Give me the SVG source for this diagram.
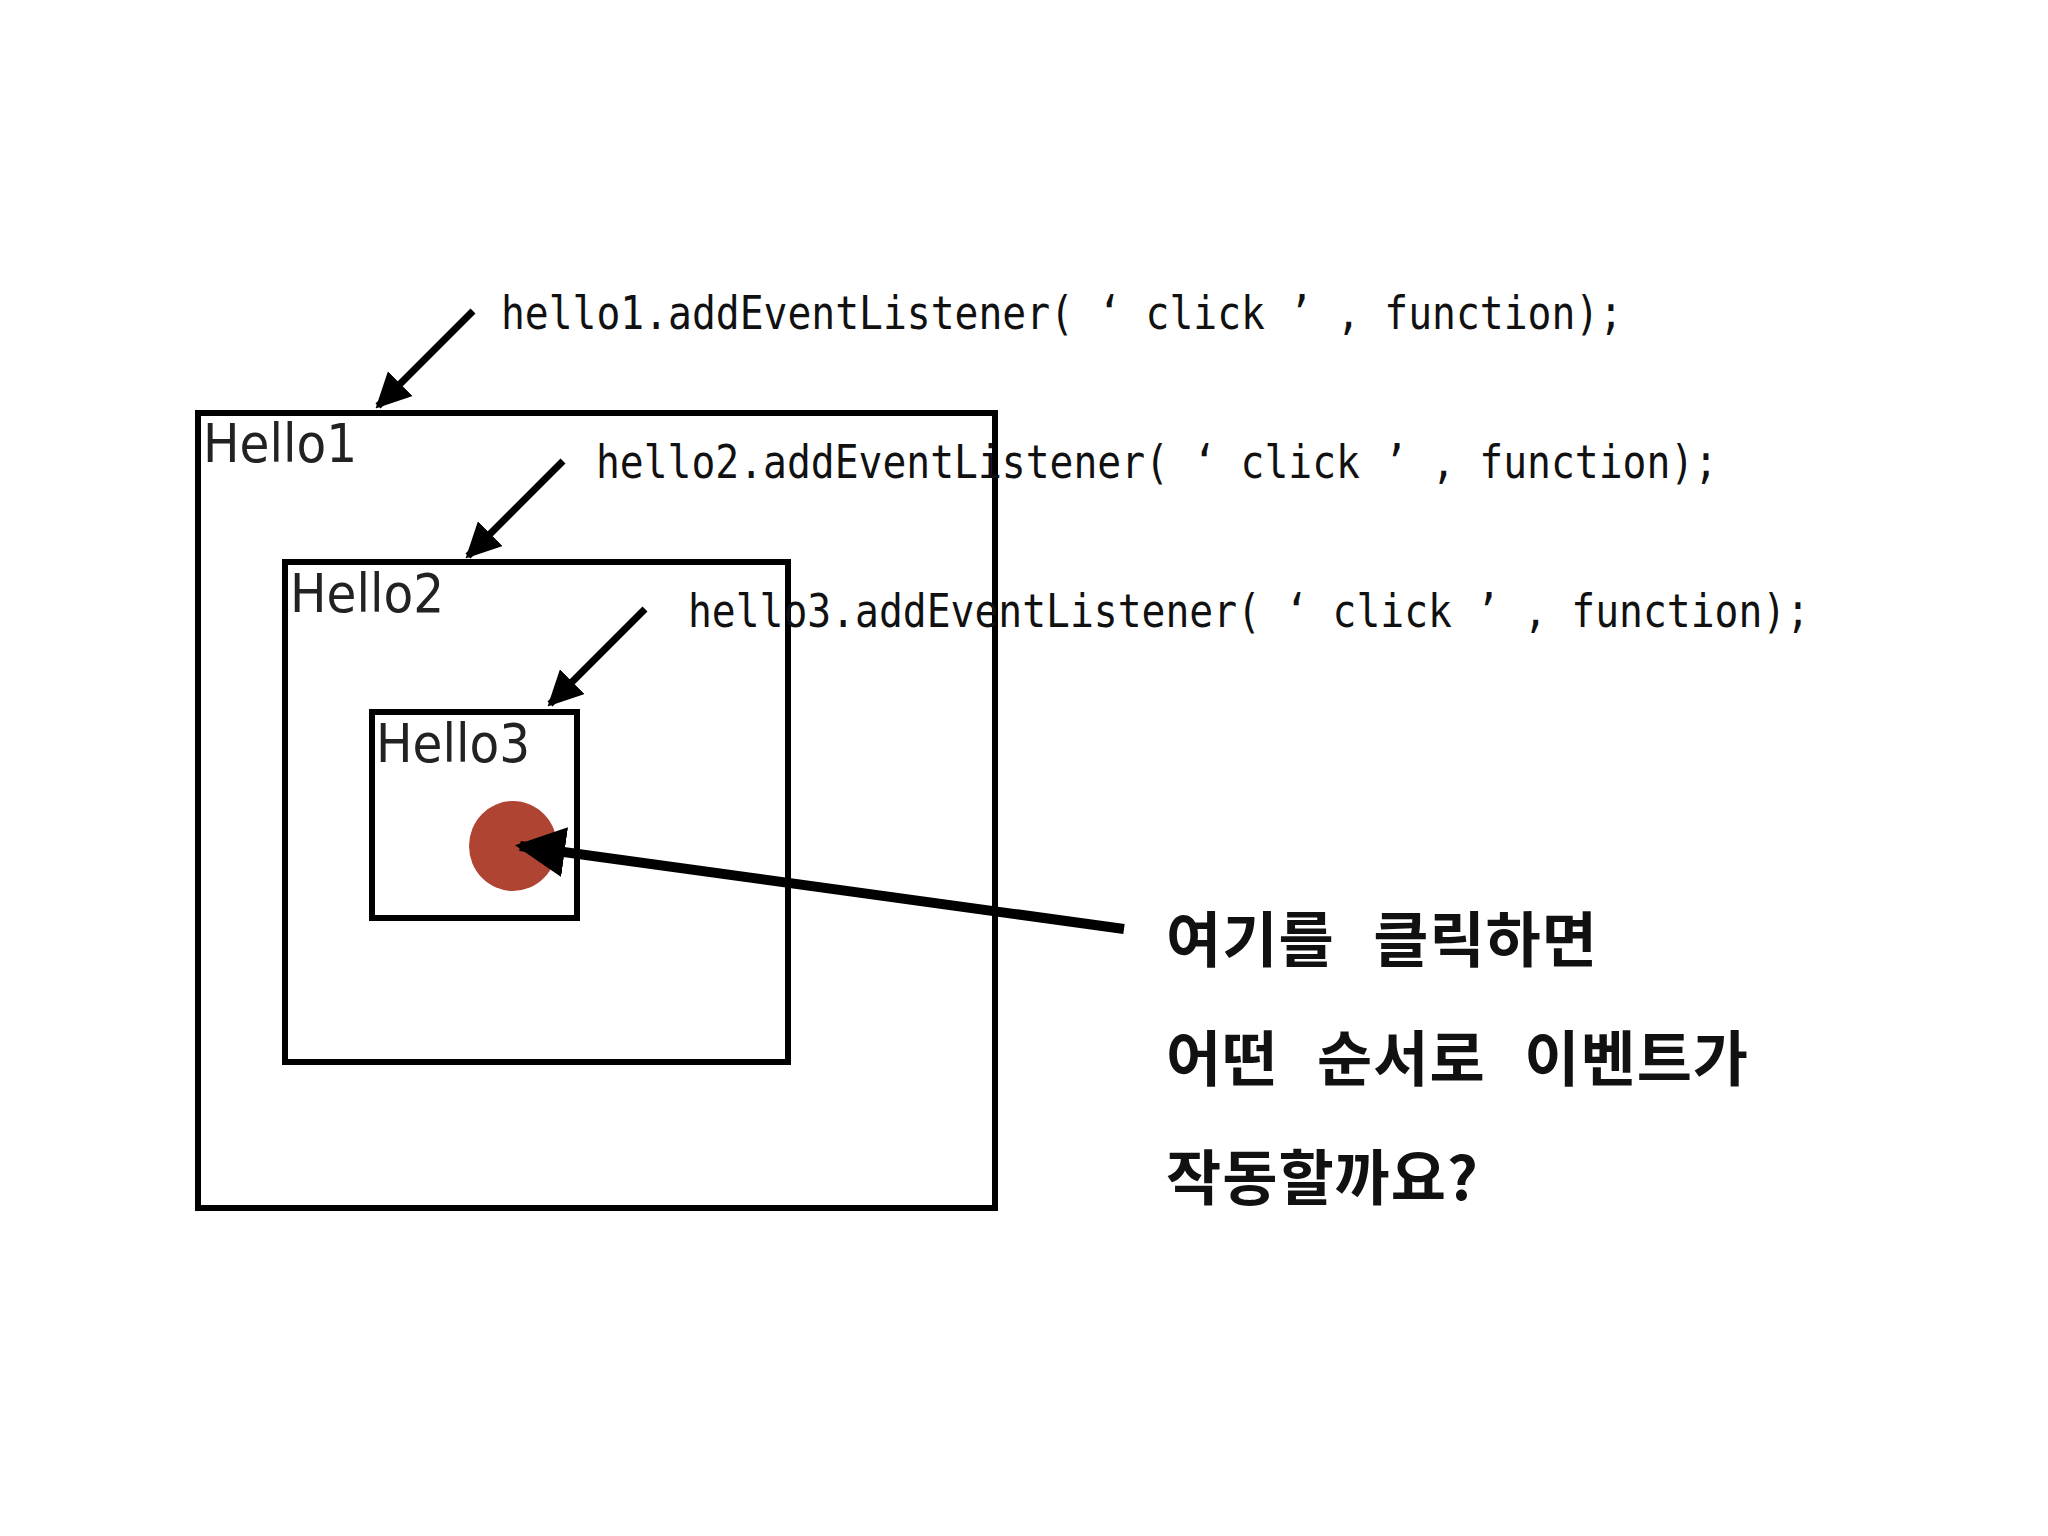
<svg xmlns="http://www.w3.org/2000/svg" width="2048" height="1536" viewBox="0 0 2048 1536">
<style>
.box{fill:none;stroke:#000;stroke-width:6}
.lbl{font-family:"DejaVu Sans Condensed","DejaVu Sans",sans-serif;font-size:54px;fill:#222}
.code{font-family:"DejaVu Sans Mono","Liberation Mono",monospace;font-size:46px;fill:#111}
.kr{font-family:"Noto Sans CJK KR",sans-serif;font-size:60px;font-weight:bold;fill:#111;word-spacing:24px;letter-spacing:1px}
.arr{stroke:#000;stroke-width:7;fill:none}
</style>
<defs>
<marker id="ah" viewBox="0 0 10 10" refX="9" refY="5" markerWidth="5" markerHeight="5" orient="auto" markerUnits="strokeWidth">
<path d="M0,0L10,5L0,10z" fill="#000"/>
</marker>
</defs>
<rect width="2048" height="1536" fill="#fff"/>
<g id="hello1"><rect class="box" x="198" y="413" width="797" height="795"/><text class="lbl" x="203" y="462">Hello1</text></g>
<g id="hello2"><rect class="box" x="285" y="562" width="503" height="500"/><text class="lbl" x="290" y="612">Hello2</text></g>
<g id="hello3"><rect class="box" x="372" y="712" width="205" height="206"/><text class="lbl" x="376" y="762">Hello3</text>
<ellipse cx="513" cy="846" rx="44" ry="45" fill="#b04432"/></g>
<g id="code">
<text class="code" x="501" y="329" textLength="1122" lengthAdjust="spacingAndGlyphs">hello1.addEventListener( ‘ click ’ , function);</text>
<text class="code" x="596" y="478" textLength="1122" lengthAdjust="spacingAndGlyphs">hello2.addEventListener( ‘ click ’ , function);</text>
<text class="code" x="688" y="627" textLength="1122" lengthAdjust="spacingAndGlyphs">hello3.addEventListener( ‘ click ’ , function);</text>
</g>
<g id="question">
<text class="kr" x="1166" y="962">여기를 클릭하면</text>
<text class="kr" x="1166" y="1081">어떤 순서로 이벤트가</text>
<text class="kr" x="1166" y="1200">작동할까요?</text>
</g>
<g id="connectors">
<line class="arr" x1="473" y1="311" x2="378" y2="406" marker-end="url(#ah)"/>
<line class="arr" x1="563" y1="461" x2="468" y2="556" marker-end="url(#ah)"/>
<line class="arr" x1="645" y1="609" x2="550" y2="704" marker-end="url(#ah)"/>
<line class="arr" style="stroke-width:10" x1="1124" y1="929" x2="520" y2="846" marker-end="url(#ah)"/>
</g>
</svg>
